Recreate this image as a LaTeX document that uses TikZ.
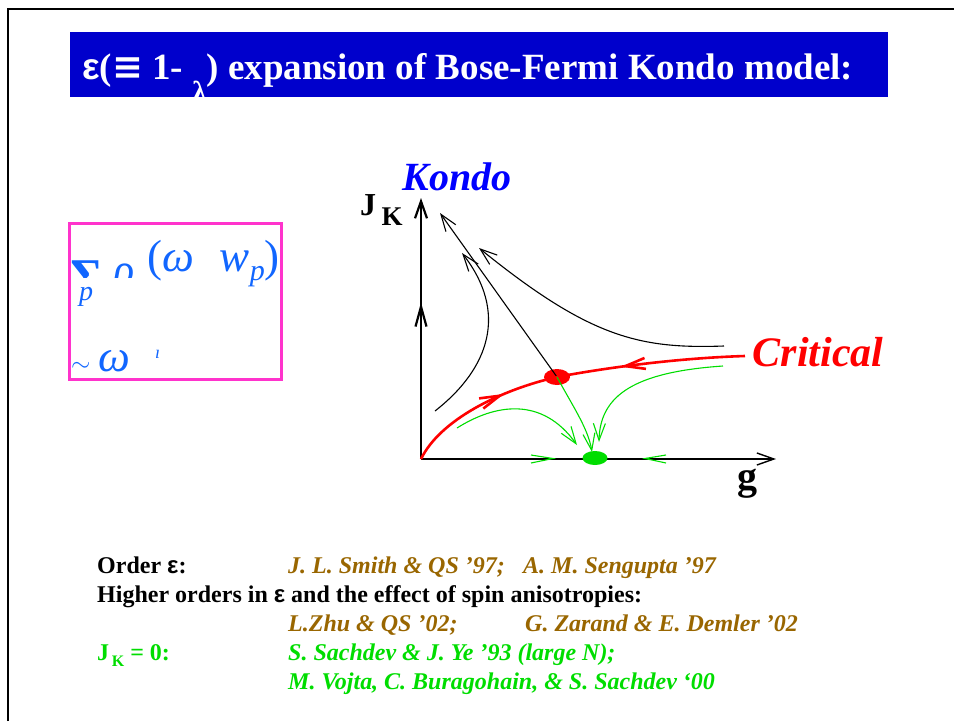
\documentclass[tikz,border=0pt]{standalone}
\usepackage{fontspec}
\setmainfont{Liberation Serif}
\newfontfamily\greeksans{Liberation Sans}
\newfontfamily\symsans{DejaVu Sans}
\usetikzlibrary{arrows.meta,decorations.markings,shapes.geometric,positioning}

\definecolor{slideblue}{RGB}{0,0,204}
\definecolor{kondoblue}{RGB}{0,0,255}
\definecolor{formulablue}{RGB}{17,102,255}
\definecolor{boxpink}{RGB}{255,51,204}
\definecolor{refbrown}{RGB}{153,102,0}
\definecolor{refgreen}{RGB}{0,221,0}
\definecolor{critred}{RGB}{255,0,0}

\begin{document}
\begin{tikzpicture}[
  x=1pt,y=-1pt,
  flowline/.style={line width=1.1pt},
  tipline/.style={-{Straight Barb[length=17pt,width=12pt]}},
  midtip/.style={
    postaction={decorate},
    decoration={markings,
      mark=at position #1 with {\arrow{Straight Barb[length=20pt,width=11pt]}}}
  },
  critline/.style={draw=critred,line width=2.6pt},
  greenline/.style={draw=refgreen,line width=1.1pt},
  blacktext/.style={anchor=base west,inner sep=0pt,font=\fontsize{24}{28}\selectfont\bfseries},
  reftext/.style={anchor=base west,inner sep=0pt,text=refbrown,font=\fontsize{24}{28}\selectfont\bfseries\itshape},
  greentext/.style={reftext,text=refgreen},
  formula/.style={anchor=base west,inner sep=0pt,text=formulablue},
  fixeddot/.style={ellipse,inner sep=0pt}
]
\useasboundingbox (0,0) rectangle (954,721);

% slide frame and title bar
\draw[line width=2.2pt] (8,721) -- (8,9) -- (954,9);
\node[fill=slideblue,anchor=north west,minimum width=818pt,minimum height=65pt,inner sep=0pt] (titlebar) at (70,32) {};
\node[anchor=base west,inner sep=0pt,text=white,font=\fontsize{37}{40}\selectfont\bfseries] (title) at (82,79)
  {{\greeksans ε}({\symsans ≡} 1- \raisebox{-0.6em}{\fontsize{29}{29}\selectfont λ}) expansion of Bose-Fermi Kondo model:};

% spectral density box
\node[draw=boxpink,line width=3pt,anchor=north west,minimum width=212pt,minimum height=156pt,inner sep=0pt] (dosbox) at (68,222) {};
\begin{scope}
  \clip (70,252) rectangle (145,277);
  \node[formula,font=\fontsize{50}{50}\selectfont\bfseries] (sumsign) at (70,262) {\smash{\raisebox{-31pt}{Σ}}};
  \node[formula,font=\fontsize{44}{44}\selectfont\itshape] (rhosign) at (113,262) {\smash{\raisebox{-22pt}{ρ}}};
\end{scope}
\node[formula,font=\fontsize{28}{28}\selectfont\itshape] (sumindex) at (79,300) {p};
\node[formula,font=\fontsize{45}{45}\selectfont] (spectrum) at (147,271)
  {(\textit{ω}\hspace{26pt}\textit{w}\raisebox{-9pt}{\fontsize{30}{30}\selectfont\textit{p}})};
\node[formula,font=\fontsize{45}{45}\selectfont] (powerlaw) at (71,371)
  {$\sim$\,\textit{ω}};
\node[formula,font=\fontsize{18}{18}\selectfont\itshape] (powertick) at (155,358) {ı};

% flow diagram
\coordinate (origin) at (421,459);
\draw[line width=2.2pt,tipline,midtip=0.6] (origin) -- (421,198);
\draw[line width=1.4pt,tipline] (origin) -- (776,459);
\node[font=\fontsize{40}{40}\selectfont\bfseries\itshape,text=kondoblue] (kondo) at (457,177) {Kondo};
\node[anchor=base west,inner sep=0pt,font=\fontsize{32}{32}\selectfont\bfseries] (jk) at (360,215)
  {J\,\raisebox{-10pt}{\fontsize{27}{27}\selectfont K}};
\node[font=\fontsize{40}{40}\selectfont\bfseries] (gaxis) at (747,484) {g};
\node[font=\fontsize{42}{42}\selectfont\bfseries\itshape,text=critred] (critical) at (818,352) {Critical};

\node[fixeddot,fill=critred,minimum width=26pt,minimum height=16pt] (critdot) at (557,377) {};
\node[fixeddot,fill=refgreen,minimum width=25pt,minimum height=14pt] (stabledot) at (595,458) {};

% Kondo flows
\draw[flowline,tipline] (435,411) .. controls (490,368) and (508,312) .. (462,253);
\draw[flowline,tipline] (critdot.center) -- (440,213);
\draw[flowline,tipline] (724,346) .. controls (640,349) and (590,338) .. (479,248);

% critical line
\draw[critline,midtip=0.66] (origin) .. controls (440,420) and (500,390) .. (critdot.center);
\draw[critline,midtip=0.66] (745,356) .. controls (680,358) and (610,367) .. (critdot.center);

% flows to the decoupled fixed point
\draw[greenline,tipline] (critdot.center) .. controls (572,405) and (588,428) .. (592,452);
\draw[greenline,tipline] (723,366) .. controls (635,372) and (600,395) .. (599,442);
\draw[greenline,tipline] (457,428) .. controls (495,404) and (542,396) .. (577,445);
\draw[greenline] (531,455) -- (553,458.5) -- (531,463);
\draw[greenline] (666,455) -- (645,458.5) -- (666,463);

% references
\node[blacktext] (order) at (97,573) {Order {\greeksans ε}:};
\node[reftext] (smith) at (288,573) {J. L. Smith \& QS ’97;};
\node[reftext] (sengupta) at (523,573) {A. M. Sengupta ’97};
\node[blacktext] (higher) at (97,602) {Higher orders in {\greeksans ε} and the effect of spin anisotropies:};
\node[reftext] (zhu) at (288,631) {L.Zhu \& QS ’02;};
\node[reftext] (zarand) at (525,631) {G. Zarand \& E. Demler ’02};
\node[blacktext,text=refgreen] (jkzero) at (97,660) {J\raisebox{-6pt}{\fontsize{16}{16}\selectfont\,K} = 0:};
\node[greentext] (sachdev) at (288,660) {S. Sachdev \& J. Ye ’93 (large N);};
\node[greentext] (vojta) at (288,689) {M. Vojta, C. Buragohain, \& S. Sachdev ‘00};
\end{tikzpicture}
\end{document}
